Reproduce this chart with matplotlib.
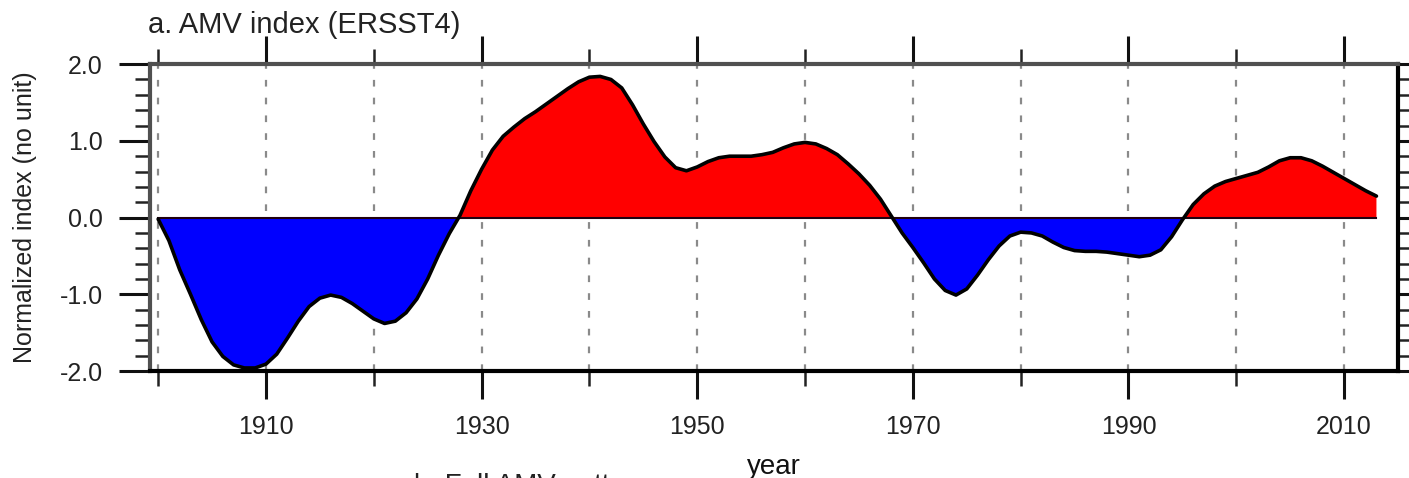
import numpy as np
import matplotlib.pyplot as plt
from matplotlib.ticker import MultipleLocator

plt.rcParams['font.family'] = ['Liberation Sans', 'DejaVu Sans']

# annual AMV index, 1900-2013 (normalized, smoothed)
years = np.arange(1900, 2014)
amv = [
    -0.02, -0.30, -0.68, -1.00, -1.33, -1.62, -1.81, -1.92, -1.96, -1.96,   # 1900s
    -1.91, -1.78, -1.57, -1.35, -1.16, -1.05, -1.01, -1.04, -1.12, -1.22,   # 1910s
    -1.32, -1.38, -1.35, -1.24, -1.06, -0.80, -0.49, -0.21, 0.03, 0.35,     # 1920s
    0.63, 0.88, 1.06, 1.18, 1.29, 1.38, 1.48, 1.58, 1.68, 1.77,             # 1930s
    1.83, 1.84, 1.80, 1.69, 1.47, 1.22, 0.99, 0.79, 0.65, 0.61,             # 1940s
    0.66, 0.73, 0.78, 0.80, 0.80, 0.80, 0.82, 0.85, 0.91, 0.96,             # 1950s
    0.98, 0.96, 0.90, 0.82, 0.70, 0.57, 0.42, 0.24, 0.02, -0.20,            # 1960s
    -0.39, -0.59, -0.80, -0.95, -1.01, -0.93, -0.75, -0.55, -0.37, -0.24,   # 1970s
    -0.19, -0.20, -0.24, -0.32, -0.39, -0.43, -0.44, -0.44, -0.45, -0.47,   # 1980s
    -0.49, -0.51, -0.49, -0.42, -0.25, -0.03, 0.17, 0.31, 0.41, 0.47,       # 1990s
    0.51, 0.55, 0.59, 0.66, 0.74, 0.78, 0.78, 0.74, 0.67, 0.59,             # 2000s
    0.51, 0.43, 0.35, 0.28,                                                 # 2010s
]
amv = np.array(amv)

major_years = np.arange(1910, 2011, 20)
minor_years = np.arange(1900, 2011, 20)
grid_years = np.arange(1900, 2011, 10)
yticks = [-2.0, -1.0, 0.0, 1.0, 2.0]
ytick_labels = ['-2.0', '-1.0', '0.0', '1.0', '2.0']

fig = plt.figure(figsize=(14.09, 4.78), dpi=100)
ax = fig.add_axes([0.1065, 0.2238, 0.8857, 0.642])

# dashed decade lines behind the curve
for yr in grid_years:
    ax.axvline(yr, color='#8a8a8a', lw=1.6, ls=(0, (3, 5)), zorder=0)

ax.fill_between(years, amv, 0, where=amv >= 0, interpolate=True,
                color='#ff0000', lw=0, zorder=2)
ax.fill_between(years, amv, 0, where=amv <= 0, interpolate=True,
                color='#0000ff', lw=0, zorder=2)
ax.plot([years[0], years[-1]], [0, 0], color='#200010', lw=1.5, zorder=3)
ax.plot(years, amv, color='black', lw=2.6, zorder=4,
        solid_joinstyle='round', solid_capstyle='round')

ax.set_xlim(1899.25, 2015.0)
ax.set_ylim(-2.0, 2.0)

ax.set_xticks(major_years)
ax.set_xticklabels([str(y) for y in major_years])
ax.set_xticks(minor_years, minor=True)
ax.set_yticks(yticks)
ax.set_yticklabels(ytick_labels)
ax.yaxis.set_minor_locator(MultipleLocator(0.2))

ax.tick_params(which='major', direction='out', length=20, width=2.2,
               colors='#111111', labelsize=18, labelcolor='#222222',
               top=True, right=True, pad=12)
ax.tick_params(which='minor', direction='out', length=11, width=1.8,
               colors='#222222', top=True, right=True)
ax.tick_params(axis='y', which='major', length=22, pad=12)

for side in ['bottom', 'right']:
    ax.spines[side].set_linewidth(3)
    ax.spines[side].set_color('black')
for side in ['top', 'left']:
    ax.spines[side].set_linewidth(3)
    ax.spines[side].set_color('#505050')

ax.set_ylabel('Normalized index (no unit)', fontsize=18, color='#222222')
ax.yaxis.set_label_coords(-0.0905, 0.5)
ax.set_xlabel('year', fontsize=20, color='#111111')
ax.xaxis.set_label_coords(0.5, -0.272)

fig.text(0.105, 0.948, 'a. AMV index (ERSST4)', fontsize=21,
         color='#222222', va='center', ha='left')
# top of the next panel's title, cut by the figure edge
fig.text(0.294, 0.0105, 'b. Full AMV pattern', fontsize=20,
         color='#222222', va='top', ha='left')

fig.savefig('out.png', dpi=100)
